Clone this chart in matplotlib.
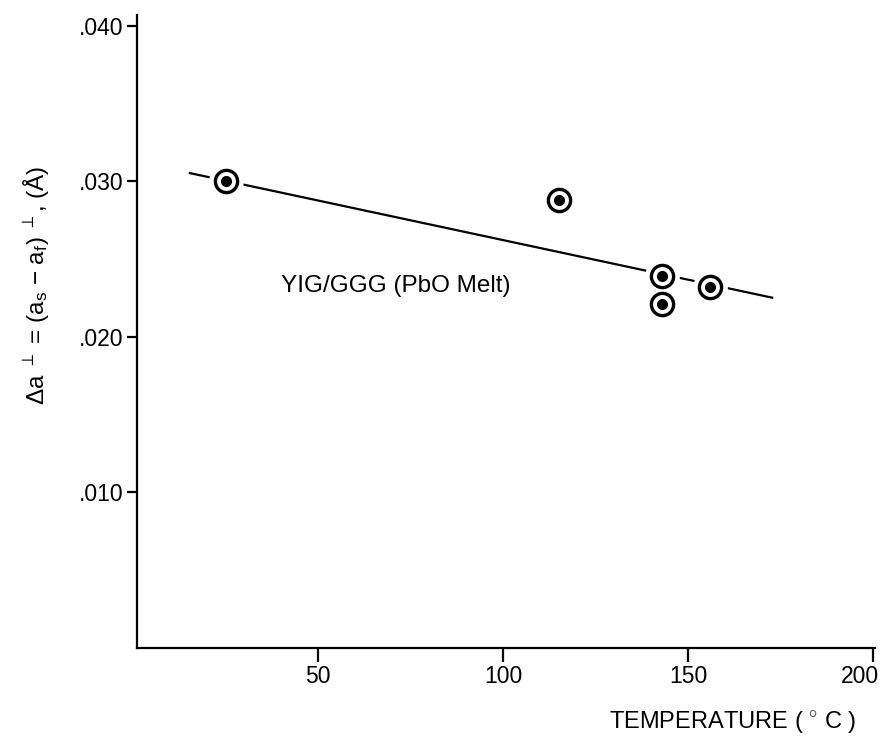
import matplotlib
matplotlib.use("Agg")
import matplotlib.pyplot as plt
import matplotlib.transforms as mtransforms

plt.rcParams['font.family'] = ['Liberation Sans', 'DejaVu Sans']
plt.rcParams['mathtext.fontset'] = 'custom'
plt.rcParams['mathtext.rm'] = 'Liberation Sans'
plt.rcParams['mathtext.it'] = 'Liberation Sans'
plt.rcParams['mathtext.sf'] = 'Liberation Sans'

# Data
temperature = [25, 115, 143, 143, 156]
delta_a = [0.0300, 0.0288, 0.0239, 0.0221, 0.0232]
fit_x = [15, 173]
fit_y = [0.03055, 0.02251]
x_ticks = [50, 100, 150, 200]
x_tick_labels = ["50", "100", "150", "200"]
y_ticks = [0.010, 0.020, 0.030, 0.040]
y_tick_labels = [".010", ".020", ".030", ".040"]

fig = plt.figure(figsize=(8.85, 7.44), dpi=100)
ax = fig.add_axes([137/885, 96/744, 738/885, 633/744])

ax.plot(fit_x, fit_y, color='black', lw=1.6, zorder=1, solid_capstyle='butt')
# white halo to break the line near each marker
ax.plot(temperature, delta_a, 'o', ms=24, mfc='white', mec='white', zorder=2)
ax.plot(temperature, delta_a, 'o', ms=16, mfc='white', mec='black', mew=2.4, zorder=3)
ax.plot(temperature, delta_a, 'o', ms=7, mfc='black', mec='black', zorder=4)

ax.set_xlim(1, 200.5)
ax.set_ylim(0, 0.0407)
ax.spines['top'].set_visible(False)
ax.spines['right'].set_visible(False)
for s in ('left', 'bottom'):
    ax.spines[s].set_linewidth(1.6)

ax.set_xticks(x_ticks)
ax.set_xticklabels(x_tick_labels)
ax.set_yticks(y_ticks)
ax.set_yticklabels(y_tick_labels)
ax.tick_params(axis='x', direction='out', length=10, width=1.6, labelsize=16.5, pad=2)
ax.tick_params(axis='y', direction='out', length=7, width=1.6, labelsize=16.5, pad=3)

# last x tick label sits at the figure edge; keep it inside
last = ax.get_xticklabels()[-1]
last.set_horizontalalignment('right')
last.set_transform(last.get_transform() + mtransforms.ScaledTranslation(6/100, 0, fig.dpi_scale_trans))

ax.text(40, 0.0233, "YIG/GGG (PbO Melt)", fontsize=17.5, va='center', ha='left')

fig.text(733/885, 1 - 722/744, "TEMPERATURE ( $^{\\circ}$ C )", fontsize=17,
         ha='center', va='center')
fig.text(36/885, 1 - 285/744,
         "$\\Delta$a $^{\\perp}$ = (a$_{s}$ $-$ a$_{f}$) $^{\\perp}$, (Å)",
         fontsize=17.5, rotation=90, ha='center', va='center')

fig.savefig("out.png", dpi=100)
